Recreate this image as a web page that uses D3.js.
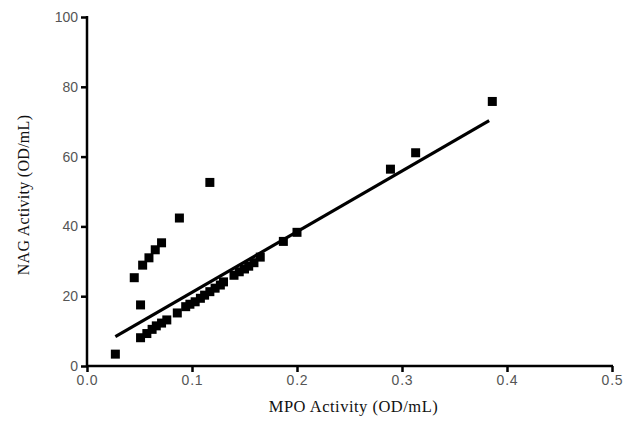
<!DOCTYPE html>
<html>
<head>
<meta charset="utf-8">
<script src="https://cdn.jsdelivr.net/npm/d3@7"></script>
<style>
  body { margin: 0; background: #fff; }
</style>
</head>
<body>
<div id="chart"></div>
<script>
// MPO activity (x) vs NAG activity (y)
const mpo = [0.027, 0.045, 0.051, 0.051, 0.053, 0.059, 0.065, 0.071, 0.088, 0.117,
  0.057, 0.062, 0.066, 0.071, 0.076, 0.086, 0.094, 0.098, 0.103, 0.108,
  0.112, 0.117, 0.122, 0.127, 0.130, 0.140, 0.145, 0.150, 0.154, 0.159,
  0.165, 0.187, 0.200, 0.289, 0.313, 0.386];
const nag = [3.4, 25.3, 17.5, 8.1, 28.9, 31.0, 33.3, 35.3, 42.4, 52.6,
  9.3, 10.5, 11.5, 12.3, 13.2, 15.2, 17.0, 17.7, 18.4, 19.4,
  20.3, 21.3, 22.3, 23.2, 24.1, 26.0, 27.0, 27.8, 28.6, 29.6,
  31.2, 35.7, 38.3, 56.4, 61.1, 75.8];

// fitted regression line, end points
const fitX = [0.027, 0.383];
const fitY = [8.4, 70.3];

const xTicks = [0, 0.1, 0.2, 0.3, 0.4, 0.5];
const yTicks = [0, 20, 40, 60, 80, 100];

const width = 629, height = 424;
const margin = { top: 17, right: 17, bottom: 58, left: 87 };
const w = width - margin.left - margin.right;
const h = height - margin.top - margin.bottom;

const svg = d3.select("#chart")
    .append("svg")
    .attr("width", width)
    .attr("height", height);

const g = svg.append("g")
    .attr("transform", `translate(${margin.left}, ${margin.top})`);

const x = d3.scaleLinear().domain([0, 0.5]).range([0, w]);
const y = d3.scaleLinear().domain([0, 100]).range([h, 0]);

// axes
const xAxis = g.append("g")
    .attr("transform", `translate(0, ${h})`)
    .call(d3.axisBottom(x).tickValues(xTicks).tickFormat(d3.format(".1f")).tickSize(6).tickPadding(3));

const yAxis = g.append("g")
    .call(d3.axisLeft(y).tickValues(yTicks).tickFormat(d3.format("d")).tickSize(6).tickPadding(3));

[xAxis, yAxis].forEach(ax => {
    ax.selectAll("path, line")
        .attr("stroke", "#000")
        .style("stroke-width", "2.5px");
    ax.select(".domain").attr("d", null);
    ax.selectAll(".tick text")
        .style("fill", "#555")
        .style("font-family", "Liberation Sans, Arial, sans-serif")
        .style("font-size", "14px");
});
xAxis.selectAll(".tick text").style("letter-spacing", "0.8px");

// redraw domains without end caps
xAxis.append("line")
    .attr("x1", x(0) - 1).attr("x2", x(0.5) + 1)
    .attr("y1", 0).attr("y2", 0)
    .attr("stroke", "#000").style("stroke-width", "2.5px");
yAxis.append("line")
    .attr("x1", 0).attr("x2", 0)
    .attr("y1", y(0) + 1).attr("y2", y(100) - 1)
    .attr("stroke", "#000").style("stroke-width", "2.5px");

// axis titles
g.append("text")
    .attr("x", w / 2 + 4)
    .attr("y", h + 46)
    .style("text-anchor", "middle")
    .style("font-family", "Liberation Serif, Times New Roman, serif")
    .style("font-size", "16.5px")
    .style("letter-spacing", "0.5px")
    .style("fill", "#111")
    .text("MPO Activity (OD/mL)");

g.append("text")
    .attr("transform", "rotate(-90)")
    .attr("x", -178)
    .attr("y", -58)
    .style("text-anchor", "middle")
    .style("font-family", "Liberation Serif, Times New Roman, serif")
    .style("font-size", "16px")
    .style("letter-spacing", "0.3px")
    .style("fill", "#111")
    .text("NAG Activity (OD/mL)");

// regression line
const line = d3.line()
    .x(d => x(d[0]))
    .y(d => y(d[1]));

g.append("path")
    .datum(fitX.map((v, i) => [v, fitY[i]]))
    .attr("fill", "none")
    .attr("stroke", "#000")
    .attr("stroke-width", 3.2)
    .attr("d", line);

// points
const size = 9;
g.selectAll(".pt")
    .data(mpo.map((v, i) => ({ x: v, y: nag[i] })))
    .enter()
    .append("rect")
    .attr("class", "pt")
    .attr("x", d => x(d.x) - size / 2)
    .attr("y", d => y(d.y) - size / 2)
    .attr("width", size)
    .attr("height", size)
    .attr("fill", "#000");
</script>
</body>
</html>
